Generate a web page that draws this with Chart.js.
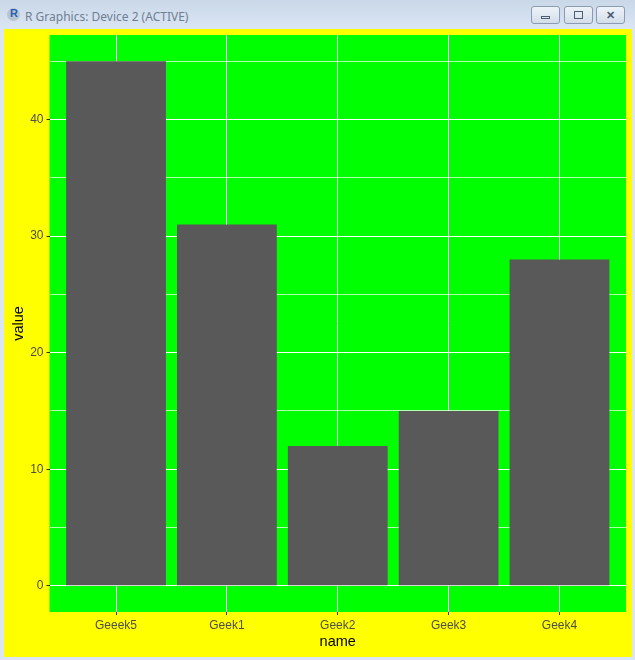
<!DOCTYPE html>
<html lang="en">
<head>
	<meta charset="UTF-8">
	<title>R Graphics: Device 2 (ACTIVE)</title>
	<script src="https://cdn.jsdelivr.net/npm/chart.js"></script>
	<style>
		html, body { margin: 0; padding: 0; }
		body { width: 635px; height: 660px; background: #dce6f2; position: relative; overflow: hidden; font-family: "Liberation Sans", Arial, sans-serif; }
		/* barra de titulo de la ventana */
		#titlebar { position: absolute; left: 0; top: 0; width: 635px; height: 29px; background: linear-gradient(#c9d7e8, #dbe6f3); }
		#icon { position: absolute; left: 7px; top: 8px; width: 13px; height: 13px; border-radius: 50%; background: #b8c4d2; }
		#icon span { position: absolute; left: 3px; top: -1px; font: bold 11px "Liberation Sans", Arial; color: #2a5fb0; }
		#wtitle { position: absolute; left: 25px; top: 8px; font: 12px "Noto Sans", "Open Sans", sans-serif; color: #6f7f92; }
		.wbtn { position: absolute; top: 6px; width: 29px; height: 18px; border: 1px solid #8a9bb2; border-radius: 3px; background: linear-gradient(#eef3f9, #d3deea); box-sizing: border-box; }
		.wbtn i { position: absolute; border: 1px solid #4e5d70; box-sizing: border-box; }
		#frame { position: absolute; left: 4px; top: 29px; width: 628px; height: 628px; }
	</style>
</head>
<body>
	<div id="titlebar">
		<div id="icon"><span>R</span></div>
		<div id="wtitle">R Graphics: Device 2 (ACTIVE)</div>
		<div class="wbtn" style="left: 531px;"><i style="left: 9px; top: 9px; width: 9px; height: 3px;"></i></div>
		<div class="wbtn" style="left: 564px;"><i style="left: 9px; top: 4px; width: 9px; height: 8px;"></i></div>
		<div class="wbtn" style="left: 596px; font: bold 11px 'Liberation Sans'; color: #4e5d70; text-align: center; line-height: 16px;">✕</div>
	</div>
	<div id="frame"><canvas id="myChart" width="628" height="628"></canvas></div>

	<script type="text/javascript">
		// datos
		const names = ['Geeek5', 'Geek1', 'Geek2', 'Geek3', 'Geek4'];
		const values = [45, 31, 12, 15, 28];
		const yTicks = [0, 10, 20, 30, 40];

		const fondo = {
			id: 'fondo',
			beforeDraw(chart) {
				const ctx = chart.ctx, a = chart.chartArea;
				ctx.save();
				ctx.fillStyle = '#ffff00';
				ctx.fillRect(0, 0, chart.width, chart.height);
				ctx.fillStyle = '#00ff00';
				ctx.fillRect(a.left, a.top, a.right - a.left, a.bottom - a.top);
				ctx.restore();
			}
		};

		new Chart(document.getElementById('myChart'), {
			type: 'bar',
			data: {
				datasets: [{
					data: values.map((v, i) => ({ x: i + 1, y: v })),
					backgroundColor: '#595959',
					borderWidth: 0,
					categoryPercentage: 1,
					barPercentage: 0.9
				}]
			},
			options: {
				responsive: false,
				animation: false,
				layout: { padding: { top: 6, right: 6, left: 0, bottom: 0 } },
				plugins: { legend: { display: false }, tooltip: { enabled: false } },
				scales: {
					x: {
						type: 'linear',
						min: 0.4, max: 5.6,
						offset: false,
						afterFit(s) { s.height = 45; s.paddingLeft = 0; s.paddingRight = 0; },
						border: { display: false },
						grid: { offset: false, color: '#ffffff', lineWidth: 1, tickColor: '#333333', tickLength: 3 },
						ticks: {
							stepSize: 1, includeBounds: false, autoSkip: false, maxRotation: 0,
							padding: 3, color: '#4d4d4d',
							font: { family: 'Liberation Sans', size: 12 },
							callback: v => names[v - 1]
						},
						title: { display: true, text: 'name', color: '#000000', font: { family: 'Liberation Sans', size: 14.5 }, padding: { top: 0, bottom: 6 } }
					},
					y: {
						min: -2.25, max: 47.25,
						afterFit(s) { s.width = 45.5; s.paddingTop = 0; s.paddingBottom = 0; },
						border: { display: false },
						grid: {
							color: '#ffffff',
							lineWidth: c => yTicks.includes(c.tick ? c.tick.value : 0) ? 1 : 0.7,
							tickColor: c => yTicks.includes(c.tick ? c.tick.value : 0) ? '#333333' : 'rgba(0,0,0,0)',
							tickLength: 3
						},
						ticks: {
							stepSize: 5, includeBounds: false, padding: 3, color: '#4d4d4d',
							font: { family: 'Liberation Sans', size: 12 },
							callback: v => yTicks.includes(v) ? v : ''
						},
						title: { display: true, text: 'value', color: '#000000', font: { family: 'Liberation Sans', size: 14.5 }, padding: { top: 6, bottom: 0 } }
					}
				}
			},
			plugins: [fondo]
		});
	</script>
</body>
</html>
